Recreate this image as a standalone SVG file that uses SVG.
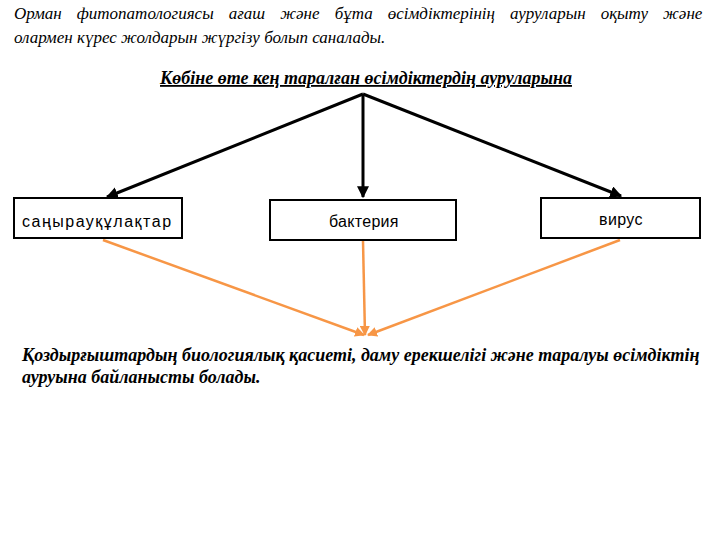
<svg xmlns="http://www.w3.org/2000/svg" width="720" height="540" viewBox="0 0 720 540">
<defs>
<style>
.it{font-family:"Liberation Serif","Times New Roman","DejaVu Serif",serif;font-style:italic;font-size:17px;fill:#000}
.bi{font-family:"Liberation Serif","Times New Roman","DejaVu Serif",serif;font-style:italic;font-weight:bold;font-size:18px;fill:#000}
.lbl{font-family:"Liberation Sans",Arial,sans-serif;font-size:16px;fill:#000}
.box{fill:#fff;stroke:#000;stroke-width:2}
.blk{stroke:#000;stroke-width:3;fill:none}
.org{stroke:#F79646;stroke-width:2.5;fill:none}
</style>
<marker id="ab" viewBox="0 0 10 10" refX="9" refY="5" markerWidth="4" markerHeight="4" orient="auto" markerUnits="strokeWidth">
<path d="M0,0 L10,5 L0,10 z" fill="#000"/>
</marker>
<marker id="ao" viewBox="0 0 10 10" refX="9" refY="5" markerWidth="4" markerHeight="4" orient="auto" markerUnits="strokeWidth">
<path d="M0,0 L10,5 L0,10 z" fill="#F79646"/>
</marker>
</defs>
<rect width="720" height="540" fill="#fff"/>
<g id="intro">
<text class="it" x="14" y="19" word-spacing="10.8">Орман фитопатологиясы ағаш және бұта өсімдіктерінің ауруларын оқыту және</text>
<text class="it" x="14" y="43">олармен күрес жолдарын жүргізу болып саналады.</text>
</g>
<g id="heading">
<text class="bi" x="366" y="84" text-anchor="middle" text-decoration="underline">Көбіне өте кең таралған өсімдіктердің ауруларына</text>
</g>
<g id="connectors">
<path class="blk" d="M363,94 L107,197" marker-end="url(#ab)"/>
<path class="blk" d="M363,94 L363,197" marker-end="url(#ab)"/>
<path class="blk" d="M363,94 L621,196" marker-end="url(#ab)"/>
<path class="org" d="M103,240 L364,335" marker-end="url(#ao)"/>
<path class="org" d="M363,241 L365,335" marker-end="url(#ao)"/>
<path class="org" d="M620,240 L368,335" marker-end="url(#ao)"/>
</g>
<g id="node-fungi">
<rect class="box" x="14" y="198" width="168" height="40"/>
<text class="lbl" x="22" y="227" letter-spacing="1.5">саңырауқұлақтар</text>
</g>
<g id="node-bacteria">
<rect class="box" x="270" y="200" width="186" height="40"/>
<text class="lbl" x="329" y="227" letter-spacing="0.3">бактерия</text>
</g>
<g id="node-virus">
<rect class="box" x="541" y="198" width="159" height="40"/>
<text class="lbl" x="599" y="225" letter-spacing="0.4">вирус</text>
</g>
<g id="conclusion">
<text class="bi" x="22" y="361">Қоздырғыштардың биологиялық қасиеті, даму ерекшелігі және таралуы өсімдіктің</text>
<text class="bi" x="22" y="383">ауруына байланысты болады.</text>
</g>
</svg>
